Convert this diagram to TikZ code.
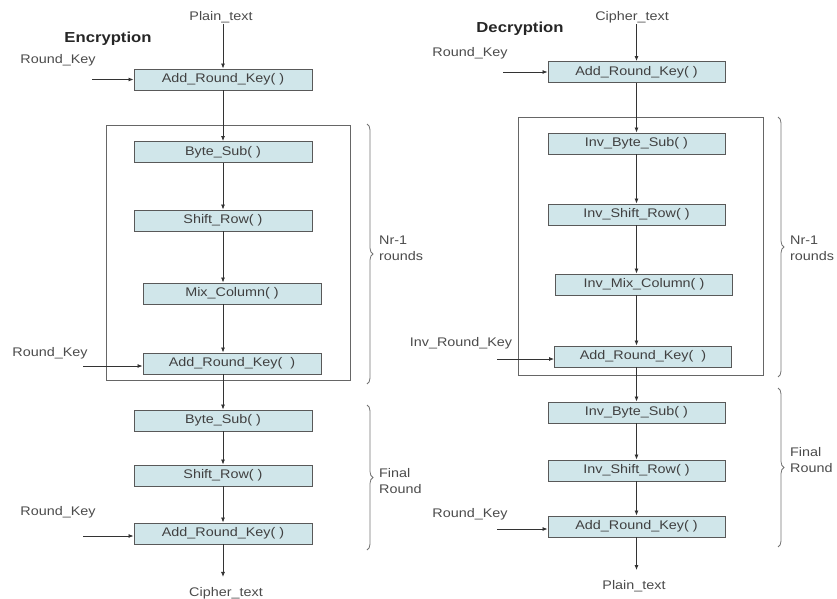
\documentclass[tikz,border=0pt]{standalone}
\usepackage{fontspec}
\setmainfont{Liberation Sans}[FakeStretch=1.15]
\usetikzlibrary{positioning,arrows.meta,decorations.pathreplacing}
\definecolor{stepfill}{RGB}{208,230,234}
\definecolor{inkgray}{RGB}{75,75,75}

\begin{document}
\begin{tikzpicture}[x=1pt,y=-1pt,
    R/.style={draw=black!65,fill=stepfill,line width=0.9pt,minimum height=21pt,inner sep=0pt,
      text=black!75,font=\fontsize{12.5}{14}\selectfont},
    RL/.style={R,minimum width=178pt},
    RR/.style={R,minimum width=177pt},
    lbl/.style={text=inkgray,font=\fontsize{12.5}{14}\selectfont,inner sep=1pt},
    ttl/.style={text=black!85,font=\fontsize{14.5}{16}\selectfont\bfseries},
    side/.style={lbl,anchor=west,align=left,font=\fontsize{12.5}{16}\selectfont},
    arr/.style={draw=black!80,line width=0.8pt,-{Latex[length=5pt,width=4pt]}},
    frm/.style={draw=black!60,line width=1pt},
    brc/.style={draw=black!55,line width=0.8pt,decorate,decoration={brace,amplitude=6pt}}]
  \useasboundingbox (0,0) rectangle (837,599);

  % encryption
  \node[lbl] (pta) at (221,17) {Plain\_text};
  \node[ttl] (enc) at (108,39) {Encryption};
  \node[RL] (ARKa) at (223,79.5) {Add\_Round\_Key( )};
  \node[RL] (BSa) at (223,152) {Byte\_Sub( )};
  \node[RL] (SRa) at (223,220.5) {Shift\_Row( )};
  \node[RL] (MCa) at (232,293.5) {Mix\_Column( )};
  \node[RL] (ARKb) at (232,363.5) {Add\_Round\_Key(\ \ )};
  \node[RL] (BSb) at (223,420.5) {Byte\_Sub( )};
  \node[RL] (SRb) at (223,475.5) {Shift\_Row( )};
  \node[RL] (ARKc) at (223,533.5) {Add\_Round\_Key( )};
  \node[lbl] (cta) at (226,593) {Cipher\_text};
  \node[lbl] (rka) at (58,60) {Round\_Key};
  \node[lbl] (rkb) at (50,353) {Round\_Key};
  \node[lbl] (rkc) at (58,512) {Round\_Key};
  \coordinate (ka) at (92,79.5);
  \coordinate (kb) at (83,366);
  \coordinate (kc) at (83,536);
  \draw[frm] (106,125) rectangle (350,380);
  \draw[brc] (367,124) -- (367,384);
  \draw[brc] (367,405) -- (367,550);
  \node[side] (nra) at (378,248) {Nr-1\\rounds};
  \node[side] (fra) at (378,481) {Final\\Round};

  \draw[arr] (pta.south -| ARKa) -- (ARKa.north);
  \draw[arr] (ka) -- (ARKa);
  \draw[arr] (ARKa.south) -- (BSa.north);
  \draw[arr] (BSa.south) -- (SRa.north);
  \draw[arr] (SRa.south) -- (SRa.south |- MCa.north);
  \draw[arr] (SRa.south |- MCa.south) -- (SRa.south |- ARKb.north);
  \draw[arr] (kb) -- (kb -| ARKb.west);
  \draw[arr] (SRa.south |- ARKb.south) -- (BSb.north);
  \draw[arr] (BSb.south) -- (SRb.north);
  \draw[arr] (SRb.south) -- (ARKc.north);
  \draw[arr] (kc) -- (kc -| ARKc.west);
  \draw[arr,shorten >=9pt] (ARKc.south) -- (ARKc.south |- cta.north);

  % decryption
  \node[lbl] (ctb) at (632,17) {Cipher\_text};
  \node[ttl] (dec) at (520,29) {Decryption};
  \node[RR] (ARKd) at (636.5,72) {Add\_Round\_Key( )};
  \node[RR] (IBSa) at (636.5,143.5) {Inv\_Byte\_Sub( )};
  \node[RR] (ISRa) at (636.5,214.5) {Inv\_Shift\_Row( )};
  \node[RR] (IMCa) at (644,284.5) {Inv\_Mix\_Column( )};
  \node[RR] (ARKe) at (643,356.5) {Add\_Round\_Key(\ \ )};
  \node[RR] (IBSb) at (636.5,412.5) {Inv\_Byte\_Sub( )};
  \node[RR] (ISRb) at (636.5,470.5) {Inv\_Shift\_Row( )};
  \node[RR] (ARKf) at (636.5,526.5) {Add\_Round\_Key( )};
  \node[lbl] (ptb) at (634,586) {Plain\_text};
  \node[lbl] (rkd) at (470,53) {Round\_Key};
  \node[lbl] (irk) at (461,343) {Inv\_Round\_Key};
  \node[lbl] (rkf) at (470,514) {Round\_Key};
  \coordinate (kd) at (503,72);
  \coordinate (ke) at (497,359);
  \coordinate (kf) at (497,529);
  \draw[frm] (518,118) rectangle (763,375);
  \draw[brc] (778,117) -- (778,377);
  \draw[brc] (778,388) -- (778,547);
  \node[side] (nrb) at (789,248) {Nr-1\\rounds};
  \node[side] (frb) at (789,460) {Final\\Round};

  \draw[arr] (ctb.south -| ARKd) -- (ARKd.north);
  \draw[arr] (kd) -- (ARKd);
  \draw[arr] (ARKd.south) -- (IBSa.north);
  \draw[arr] (IBSa.south) -- (ISRa.north);
  \draw[arr] (ISRa.south) -- (ISRa.south |- IMCa.north);
  \draw[arr] (ISRa.south |- IMCa.south) -- (ISRa.south |- ARKe.north);
  \draw[arr] (ke) -- (ke -| ARKe.west);
  \draw[arr] (ISRa.south |- ARKe.south) -- (IBSb.north);
  \draw[arr] (IBSb.south) -- (ISRb.north);
  \draw[arr] (ISRb.south) -- (ARKf.north);
  \draw[arr] (kf) -- (kf -| ARKf.west);
  \draw[arr,shorten >=9pt] (ARKf.south) -- (ARKf.south |- ptb.north);
\end{tikzpicture}
\end{document}
